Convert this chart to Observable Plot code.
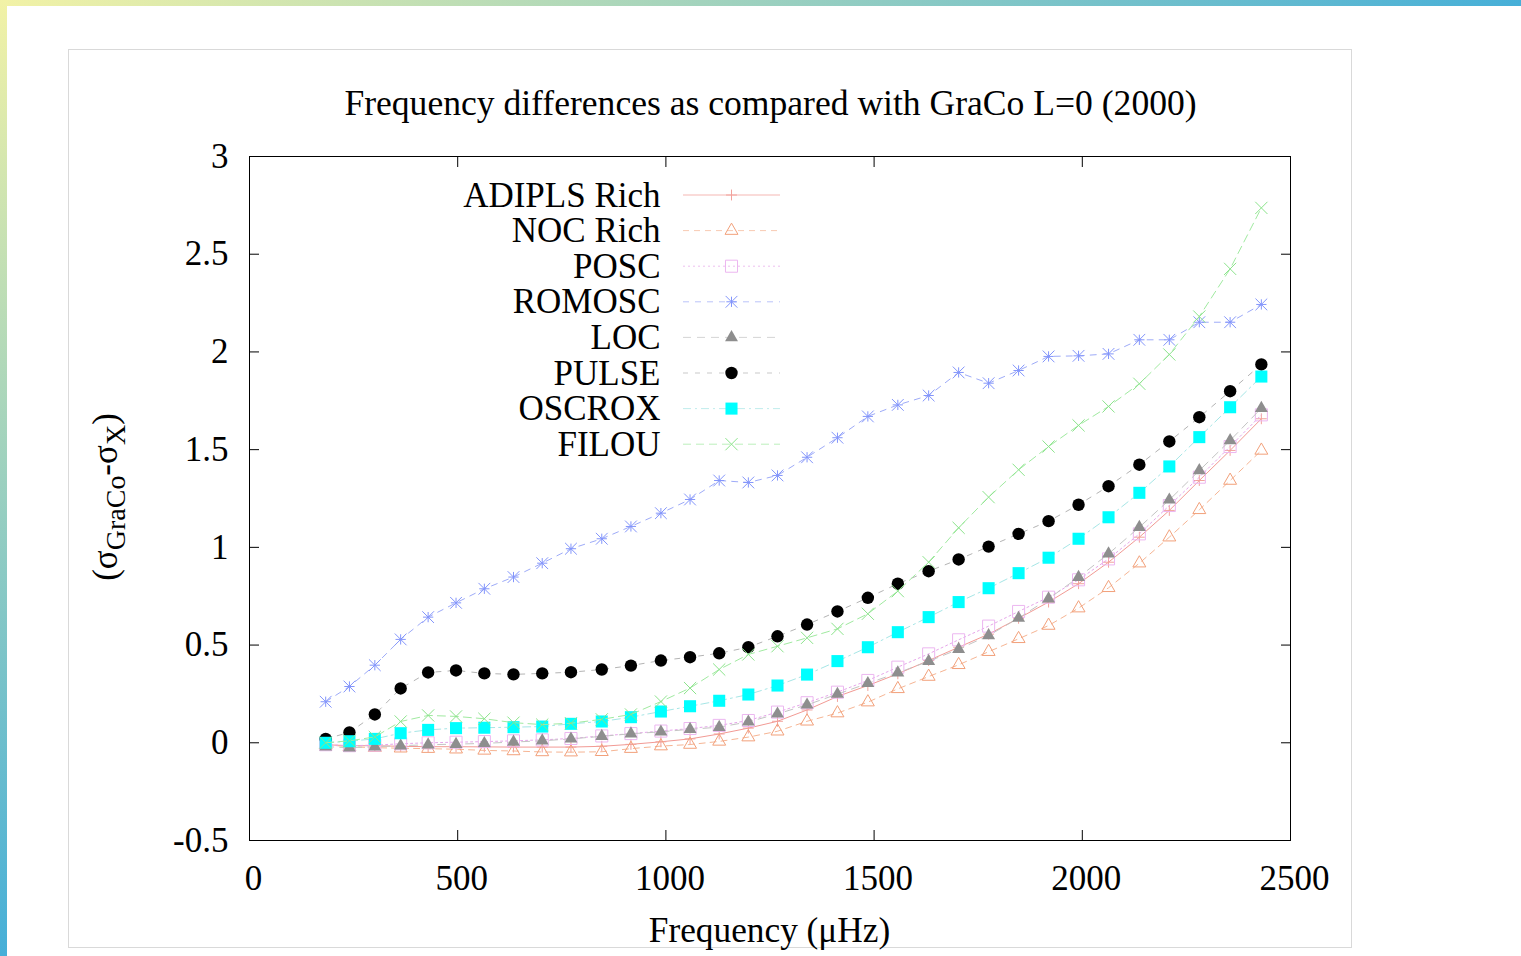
<!DOCTYPE html>
<html>
<head>
<meta charset="utf-8">
<script src="https://cdn.jsdelivr.net/npm/d3@7"></script>
<script src="https://cdn.jsdelivr.net/npm/@observablehq/plot@0.6"></script>
<style>
  html, body { margin: 0; padding: 0; background: #ffffff; }
  #page { position: relative; width: 1521px; height: 956px; overflow: hidden; font-family: "Liberation Serif", "Times New Roman", serif; color: #000; }
  #topbar { position: absolute; left: 0; top: 0; width: 1521px; height: 6px; background: linear-gradient(to right, #f2f2a6, #46afd8); }
  #leftbar { position: absolute; left: 0; top: 0; width: 7px; height: 956px; background: linear-gradient(to bottom, #f2f2a6, #46afd8); }
  #box { position: absolute; left: 68px; top: 49px; width: 1282px; height: 897px; border: 1.5px solid #d9d9d9; }
  #chart { position: absolute; left: 0; top: 0; }
  .lbl { position: absolute; left: 249px; width: 1041px; text-align: center; font-size: 35px; line-height: 35px; white-space: nowrap; }
  #overlay { position: absolute; left: 0; top: 0; }
</style>
</head>
<body>
<div id="page">
  <div id="topbar"></div>
  <div id="leftbar"></div>
  <div id="box"></div>
  <div id="chart"></div>
  <div class="lbl" id="title" style="top:86px; font-size:35.6px; left:250px;">Frequency differences as compared with GraCo L=0 (2000)</div>
  <div class="lbl" id="xlabel" style="top:913px; font-size:35.3px;">Frequency (μHz)</div>
  <svg id="overlay" width="1521" height="956"></svg>
</div>
<script>
// ---------- data ----------
const freq = [183, 240, 301, 363, 429, 496, 564, 634, 703, 772,
              846, 916, 988, 1058, 1128, 1198, 1268, 1339, 1412, 1485,
              1557, 1631, 1703, 1775, 1847, 1919, 1991, 2063, 2137, 2209,
              2281, 2355, 2430];

const seriesNames = ["ADIPLS Rich", "NOC Rich", "POSC", "ROMOSC", "LOC", "PULSE", "OSCROX", "FILOU"];

const adiplsRich = [-0.01, -0.015, -0.015, -0.018, -0.02, -0.02, -0.021, -0.022, -0.022, -0.022,
                    -0.018, -0.008, 0.005, 0.02, 0.045, 0.075, 0.11, 0.168, 0.237, 0.293,
                    0.353, 0.421, 0.489, 0.556, 0.637, 0.72, 0.814, 0.924, 1.052, 1.189,
                    1.342, 1.496, 1.658];
const nocRich = [-0.01, -0.02, -0.025, -0.028, -0.03, -0.033, -0.039, -0.042, -0.047, -0.048,
                 -0.046, -0.03, -0.017, -0.009, 0.007, 0.029, 0.059, 0.11, 0.152, 0.208,
                 0.276, 0.339, 0.399, 0.466, 0.532, 0.6, 0.689, 0.793, 0.919, 1.052,
                 1.192, 1.342, 1.496];
const posc = [-0.01, -0.015, -0.012, -0.005, 0.0, 0.003, 0.006, 0.01, 0.015, 0.022,
              0.035, 0.047, 0.06, 0.073, 0.089, 0.114, 0.157, 0.205, 0.259, 0.319,
              0.387, 0.455, 0.527, 0.597, 0.672, 0.745, 0.834, 0.941, 1.069, 1.214,
              1.359, 1.516, 1.678];
const romosc = [0.21, 0.288, 0.397, 0.529, 0.643, 0.716, 0.788, 0.848, 0.919, 0.993,
                1.044, 1.107, 1.175, 1.245, 1.342, 1.332, 1.368, 1.461, 1.561, 1.67,
                1.729, 1.777, 1.895, 1.84, 1.905, 1.977, 1.98, 1.99, 2.062, 2.062,
                2.152, 2.152, 2.243];
const loc = [-0.02, -0.025, -0.02, -0.015, -0.01, -0.007, -0.003, 0.004, 0.01, 0.02,
             0.033, 0.046, 0.056, 0.069, 0.08, 0.107, 0.148, 0.194, 0.249, 0.304,
             0.358, 0.417, 0.479, 0.549, 0.638, 0.737, 0.847, 0.967, 1.103, 1.243,
             1.393, 1.547, 1.712];
const pulse = [0.02, 0.053, 0.145, 0.278, 0.36, 0.37, 0.355, 0.35, 0.355, 0.361,
               0.375, 0.395, 0.421, 0.438, 0.458, 0.489, 0.545, 0.605, 0.672, 0.742,
               0.814, 0.878, 0.938, 1.004, 1.069, 1.134, 1.218, 1.313, 1.423, 1.542,
               1.666, 1.799, 1.936];
const oscrox = [0.0, 0.008, 0.02, 0.049, 0.066, 0.075, 0.077, 0.08, 0.083, 0.097,
                0.109, 0.131, 0.16, 0.187, 0.215, 0.247, 0.293, 0.349, 0.418, 0.489,
                0.566, 0.643, 0.72, 0.791, 0.868, 0.947, 1.044, 1.154, 1.279, 1.414,
                1.564, 1.717, 1.874];
const filou = [0.0, 0.01, 0.03, 0.109, 0.14, 0.135, 0.123, 0.103, 0.093, 0.1,
               0.12, 0.145, 0.211, 0.28, 0.375, 0.452, 0.494, 0.537, 0.583, 0.66,
               0.776, 0.924, 1.1, 1.257, 1.397, 1.516, 1.624, 1.721, 1.837, 1.987,
               2.181, 2.425, 2.737];

const xTicks = [0, 500, 1000, 1500, 2000, 2500];
const yTicks = [-0.5, 0, 0.5, 1, 1.5, 2, 2.5, 3];

// ---------- styles ----------
const seriesValues = [adiplsRich, nocRich, posc, romosc, loc, pulse, oscrox, filou];
const styles = [
  {line: {stroke: "#f29a94", dash: null}, markers: [{symbol: "plus", r: 3.6, stroke: "#f2a29c", fill: "none"}]},
  {line: {stroke: "#f6b594", dash: "6,5"}, markers: [{symbol: "triangle", r: 4.8, stroke: "#f2a07a", fill: "none"}]},
  {line: {stroke: "#e6a6ea", dash: "2,3"}, markers: [{symbol: "square", r: 6.8, stroke: "#ecb6f0", fill: "none"}]},
  {line: {stroke: "#9eabf8", dash: "6,6"}, markers: [{symbol: "times", r: 5.4, stroke: "#8395fb", fill: "none"}, {symbol: "plus", r: 3.4, stroke: "#8395fb", fill: "none"}]},
  {line: {stroke: "#c4c4c4", dash: "8,6"}, markers: [{symbol: "triangle", r: 4.8, stroke: "none", fill: "#8e8e8e"}]},
  {line: {stroke: "#b4b4b4", dash: "5,7"}, markers: [{symbol: "circle", r: 6.2, stroke: "none", fill: "#000000"}]},
  {line: {stroke: "#a6e6e6", dash: "8,4,2,4"}, markers: [{symbol: "square", r: 6.8, stroke: "none", fill: "#00ffff"}]},
  {line: {stroke: "#a0eaa0", dash: "8,5"}, markers: [{symbol: "times", r: 5.6, stroke: "#8be48b", fill: "none"}]}
];

const tables = seriesValues.map(vals => freq.map((f, i) => ({f, v: vals[i]})));

const marks = [];
tables.forEach((tbl, k) => {
  const st = styles[k];
  marks.push(Plot.line(tbl, {x: "f", y: "v", stroke: st.line.stroke, strokeWidth: 1, strokeDasharray: st.line.dash || undefined}));
  st.markers.forEach(m => {
    marks.push(Plot.dot(tbl, {x: "f", y: "v", symbol: m.symbol, r: m.r, stroke: m.stroke, fill: m.fill, strokeWidth: 1}));
  });
});

const fmt = d => String(d);

const chart = Plot.plot({
  width: 1521,
  height: 956,
  marginLeft: 249,
  marginRight: 231,
  marginTop: 156,
  marginBottom: 116,
  style: {background: "transparent", fontFamily: "'Liberation Serif', 'Times New Roman', serif", fontSize: "35px", color: "#000", overflow: "visible"},
  x: {domain: [0, 2500]},
  y: {domain: [-0.5, 3]},
  marks: [
    ...marks,
    Plot.frame({stroke: "#000", strokeWidth: 1}),
    Plot.axisX(xTicks, {anchor: "bottom", tickSize: -10, tickFormat: () => "", label: null}),
    Plot.axisX(xTicks, {anchor: "top", tickSize: -10, tickFormat: () => "", label: null}),
    Plot.axisY(yTicks, {anchor: "left", tickSize: -10, tickFormat: () => "", label: null}),
    Plot.axisY(yTicks, {anchor: "right", tickSize: -10, tickFormat: () => "", label: null}),
    Plot.axisX(xTicks, {anchor: "bottom", tickSize: 0, tickPadding: 25, dx: 4, tickFormat: fmt, label: null, fontSize: 35}),
    Plot.axisY(yTicks, {anchor: "left", tickSize: 0, tickPadding: 21, tickFormat: fmt, label: null, fontSize: 35})
  ]
});
document.getElementById("chart").appendChild(chart);

// ---------- y-axis label and legend (overlay) ----------
const ov = d3.select("#overlay");
const ylab = ov.append("text")
  .attr("transform", "translate(117,497) rotate(-90)")
  .attr("text-anchor", "middle")
  .attr("font-family", "'Liberation Serif', 'Times New Roman', serif")
  .attr("font-size", 35)
  .attr("fill", "#000");
ylab.append("tspan").text("(σ");
ylab.append("tspan").attr("font-size", 28).attr("dy", 8).text("GraCo");
ylab.append("tspan").attr("dy", -8).text("-σ");
ylab.append("tspan").attr("font-size", 28).attr("dy", 8).text("X");
ylab.append("tspan").attr("dy", -8).text(")");

const symbolMap = {plus: d3.symbolPlus, triangle: d3.symbolTriangle, square: d3.symbolSquare, times: d3.symbolTimes, circle: d3.symbolCircle};
const legendTop = 195, legendStep = 35.6;
seriesNames.forEach((name, k) => {
  const y = legendTop + k * legendStep;
  const st = styles[k];
  ov.append("text")
    .attr("x", 660.5).attr("y", y + 11.5)
    .attr("text-anchor", "end")
    .attr("font-family", "'Liberation Serif', 'Times New Roman', serif")
    .attr("font-size", 35)
    .attr("fill", "#000")
    .text(name);
  ov.append("line")
    .attr("x1", 683).attr("x2", 780).attr("y1", y).attr("y2", y)
    .attr("stroke", st.line.stroke).attr("stroke-width", 1)
    .attr("stroke-dasharray", st.line.dash || null)
    .attr("opacity", 0.7);
  st.markers.forEach(m => {
    ov.append("path")
      .attr("transform", `translate(731.5,${y})`)
      .attr("d", d3.symbol(symbolMap[m.symbol], Math.PI * m.r * m.r)())
      .attr("fill", m.fill).attr("stroke", m.stroke).attr("stroke-width", 1);
  });
});
</script>
</body>
</html>
